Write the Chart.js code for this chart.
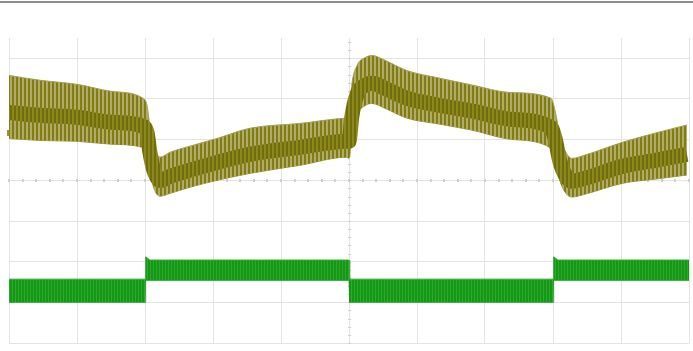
<!DOCTYPE html>
<html>
<head>
<meta charset="utf-8">
<script src="https://cdn.jsdelivr.net/npm/chart.js@4/dist/chart.umd.min.js"></script>
<style>
    html, body { margin: 0; padding: 0; background: #fff; }
    #wrap { position: relative; width: 693px; height: 351px; }
    #topRule { position: absolute; left: 0; top: 1px; width: 693px; height: 2px; background: #8c8c8c; }
</style>
</head>
<body>
<div id="wrap">
    <div id="topRule"></div>
    <canvas id="scope" width="693" height="351"></canvas>
</div>
<script>
// time axis in screen divisions, volts in vertical divisions (0 = centre line)
var ch1Time   = [0.00, 0.46, 1.00, 1.50, 1.97, 2.03, 2.07, 2.13, 2.22, 2.37, 2.66, 3.06, 3.54, 4.28, 4.97, 5.00, 5.04, 5.12, 5.24, 5.34, 5.53, 5.85, 6.34, 6.82, 7.37, 7.97, 8.03, 8.10, 8.19, 8.28, 8.47, 9.03, 9.50, 9.97];
var ch1Upper  = [2.58, 2.46, 2.36, 2.19, 2.02, 1.84, 1.35, 0.86, 0.57, 0.69, 0.84, 1.03, 1.28, 1.40, 1.53, 1.55, 2.34, 2.83, 3.02, 3.07, 2.95, 2.70, 2.51, 2.34, 2.16, 2.02, 1.72, 1.11, 0.69, 0.54, 0.62, 0.94, 1.16, 1.36];
var ch1Lower  = [1.03, 0.98, 0.96, 0.89, 0.81, 0.69, 0.25, -0.19, -0.39, -0.32, -0.17, 0.00, 0.17, 0.37, 0.57, 0.54, 0.98, 1.60, 1.84, 1.89, 1.77, 1.53, 1.38, 1.23, 1.01, 0.79, 0.54, 0.00, -0.32, -0.41, -0.34, -0.07, 0.03, 0.13];
var ch1Centre = [1.67, 1.60, 1.55, 1.43, 1.33, 1.18, 0.71, 0.25, 0.00, 0.10, 0.25, 0.44, 0.64, 0.81, 0.96, 0.96, 1.55, 2.12, 2.34, 2.39, 2.26, 2.02, 1.84, 1.70, 1.50, 1.30, 1.03, 0.47, 0.10, -0.02, 0.05, 0.35, 0.49, 0.64];

var ch2Time  = [0.00, 2.00, 2.01, 2.07, 5.00, 5.01, 8.00, 8.01, 8.07, 10.00];
var ch2Upper = [-2.43, -2.43, -1.88, -1.96, -1.96, -2.43, -2.43, -1.88, -1.96, -1.96];
var ch2Lower = [-3.00, -3.00, -2.46, -2.46, -2.46, -3.00, -3.00, -2.46, -2.46, -2.46];

var xTicks = [0, 1, 2, 3, 4, 5, 6, 7, 8, 9, 10];
var yTicks = [-4, -3, -2, -1, 0, 1, 2, 3];

function points(xs, ys) {
    return xs.map(function (x, i) { return { x: x, y: ys[i] }; });
}

// vertical stripe pattern for the ripple texture
function stripes(bg, fg, bar, period) {
    var c = document.createElement('canvas');
    c.width = period;
    c.height = 4;
    var g = c.getContext('2d');
    g.fillStyle = bg;
    g.fillRect(0, 0, period, 4);
    g.fillStyle = fg;
    g.fillRect(0, 0, bar, 4);
    return g.createPattern(c, 'repeat');
}

var ctx = document.getElementById('scope').getContext('2d');
var oliveOuter = stripes('#b0ab66', '#817c14', 2, 4);
var oliveCore = stripes('#706d0a', '#8c8820', 2, 4);
var greenFill = stripes('#129812', '#2fa82f', 1, 3);

// centre-line minor ticks like on the scope graticule
var graticule = {
    id: 'graticule',
    beforeDatasetsDraw: function (chart) {
        var c = chart.ctx, xs = chart.scales.x, ys = chart.scales.y;
        var y0 = ys.getPixelForValue(0), x0 = xs.getPixelForValue(5);
        c.save();
        c.fillStyle = '#d0d0d0';
        for (var t = 0; t <= 50; t++) {
            var px = xs.getPixelForValue(t / 5);
            c.fillRect(Math.round(px) - 1, Math.round(y0) - 1, 2, 3);
        }
        for (var s = -20; s <= 17; s++) {
            var py = ys.getPixelForValue(s / 5);
            c.fillRect(Math.round(x0) - 1, Math.round(py), 3, 1);
        }
        // channel marker on the left edge
        c.fillStyle = '#9a9530';
        c.fillRect(7, Math.round(ys.getPixelForValue(1.17)) - 3, 3, 6);
        c.restore();
    }
};

new Chart(ctx, {
    type: 'line',
    data: {
        datasets: [
            {
                label: 'CH1 upper',
                data: points(ch1Time, ch1Upper),
                borderColor: '#a39e52',
                borderWidth: 1,
                backgroundColor: oliveOuter,
                fill: '+1',
                pointRadius: 0,
                order: 2,
                cubicInterpolationMode: 'monotone'
            },
            {
                label: 'CH1 lower',
                data: points(ch1Time, ch1Lower),
                borderColor: '#9b9630',
                borderWidth: 1,
                fill: false,
                pointRadius: 0,
                order: 2,
                cubicInterpolationMode: 'monotone'
            },
            {
                label: 'CH1 centre',
                data: points(ch1Time, ch1Centre),
                borderColor: oliveCore,
                borderWidth: 15,
                borderCapStyle: 'butt',
                fill: false,
                pointRadius: 0,
                order: 1,
                cubicInterpolationMode: 'monotone'
            },
            {
                label: 'CH2 upper',
                data: points(ch2Time, ch2Upper),
                borderColor: '#36ab36',
                borderWidth: 1,
                backgroundColor: greenFill,
                fill: '+1',
                pointRadius: 0,
                order: 2,
                tension: 0
            },
            {
                label: 'CH2 lower',
                data: points(ch2Time, ch2Lower),
                borderColor: '#36ab36',
                borderWidth: 1,
                fill: false,
                pointRadius: 0,
                order: 2,
                tension: 0
            }
        ]
    },
    options: {
        responsive: false,
        animation: false,
        layout: { padding: { left: 9, right: 4, top: 38, bottom: 8 } },
        plugins: {
            legend: { display: false },
            tooltip: { enabled: false }
        },
        scales: {
            x: {
                type: 'linear',
                min: 0,
                max: 10,
                afterBuildTicks: function (axis) {
                    axis.ticks = xTicks.map(function (v) { return { value: v }; });
                },
                ticks: { display: false },
                grid: { color: '#e3e3e3', lineWidth: 1, drawTicks: false },
                border: { display: false }
            },
            y: {
                type: 'linear',
                min: -4,
                max: 3.5,
                afterBuildTicks: function (axis) {
                    axis.ticks = yTicks.map(function (v) { return { value: v }; });
                },
                ticks: { display: false },
                grid: { color: '#e3e3e3', lineWidth: 1, drawTicks: false },
                border: { display: false }
            }
        }
    },
    plugins: [graticule]
});
</script>
</body>
</html>
